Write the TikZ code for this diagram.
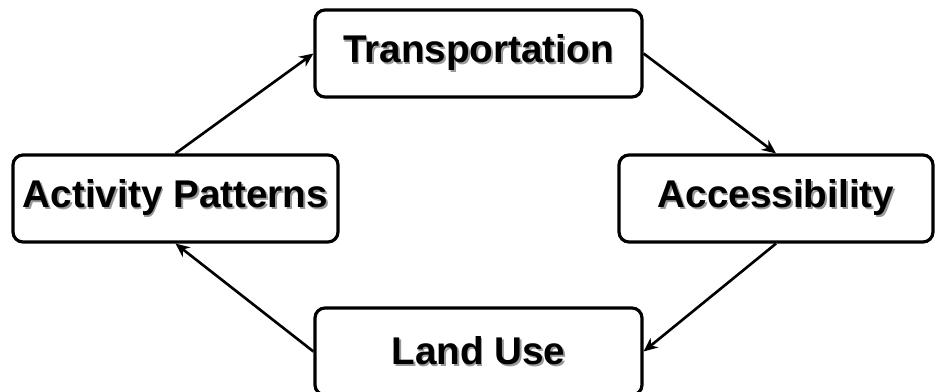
\documentclass[tikz,border=0pt]{standalone}
\usepackage{fontspec}
\setmainfont{Liberation Sans}
\usepackage{tikz}
\usetikzlibrary{arrows.meta}
\newcommand{\shtxt}[1]{\rlap{\kern1pt\raisebox{-1pt}{\color{black!40}#1}}#1}
\tikzset{
  stage/.style={draw, line width=1.8pt, rounded corners=0.2cm, minimum height=1.74cm, inner sep=0pt, font=\fontsize{22}{26}\selectfont\bfseries},
  link/.style={line width=1.5pt, -{Stealth[length=8pt,width=7pt]}}
}

\begin{document}
\begin{tikzpicture}
\useasboundingbox (0,0) rectangle (18.7,7.82);
\clip (0,0) rectangle (18.7,7.82);
% boxes
\node[stage, minimum width=6.54cm] (trans) at (9.57,6.75) {\shtxt{Transportation}};
\node[stage, minimum width=6.5cm] (act) at (3.51,3.85) {\shtxt{Activity Patterns}};
\node[stage, minimum width=6.28cm] (acc) at (15.52,3.85) {\shtxt{Accessibility}};
\node[stage, minimum width=6.54cm] (land) at (9.57,0.79) {\shtxt{Land Use}};
% arrows
\draw[link] (act.north) -- (trans.west);
\draw[link] (trans.east) -- (acc.north);
\draw[link] (acc.south) -- (land.east);
\draw[link] (land.west) -- (act.south);
\end{tikzpicture}
\end{document}
